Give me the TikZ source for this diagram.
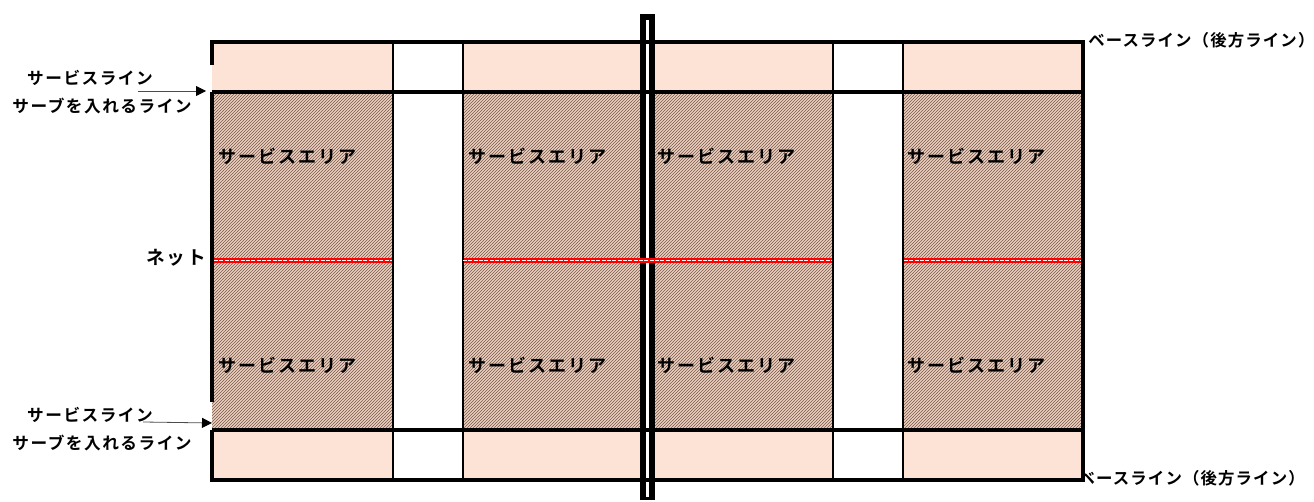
\documentclass[tikz,border=0pt]{standalone}
\usepackage{fontspec}
\setmainfont{Noto Sans CJK JP}[BoldFont={Noto Sans CJK JP Bold}]
\newfontfamily\lbfont{Noto Sans CJK JP Bold}[LetterSpace=9]
\newfontfamily\arfont{Noto Sans CJK JP Bold}[LetterSpace=11]
\newfontfamily\blfont{Noto Sans CJK JP Bold}[LetterSpace=7]
\usetikzlibrary{patterns.meta,arrows.meta}
\definecolor{peach}{HTML}{FDE3D6}
\definecolor{hatchdark}{HTML}{8A6A58}
\tikzset{
  lbl/.style={font=\lbfont\fontsize{12.5pt}{15pt}\selectfont,inner sep=0pt,text=black},
  netlbl/.style={font=\lbfont\fontsize{14pt}{16pt}\selectfont,inner sep=0pt,text=black},
  baselbl/.style={font=\blfont\fontsize{12.3pt}{15pt}\selectfont,inner sep=0pt,text=black},
  arealbl/.style={font=\arfont\fontsize{13.5pt}{16pt}\selectfont,inner sep=0pt,text=black},
  thick line/.style={line width=3pt,black},
  thin line/.style={line width=1.5pt,black},
  hatchfill/.style={fill=peach,postaction={pattern={Lines[angle=45,distance=1.591pt,line width=0.7pt]},pattern color=hatchdark}},
  peachfill/.style={fill=peach},
  pointer/.style={line width=0.6pt,black!70,-{Triangle[length=7.5pt,width=7.5pt,color=black]}},
  netband/.style={line width=3.6pt,red},
  netcore/.style={line width=0.7pt,white,dash pattern=on 3pt off 1pt},
}
\begin{document}
\begin{tikzpicture}[x=0.75pt,y=-0.75pt]
\useasboundingbox (0,0) rectangle (1314,502);
% base line labels sit under the court
\node[baselbl,anchor=west] (b1) at (1088,40) {ベースライン（後方ライン）};
\node[baselbl,anchor=east] (b2) at (1305,478) {ベースライン（後方ライン）};
% peach back courts
\foreach \a/\b in {212/392,463/641,654/833,903/1083}{
  \fill[peachfill] (\a,42) rectangle (\b,92);
  \fill[peachfill] (\a,430) rectangle (\b,480);
}
% service areas
\foreach \a/\b in {212/392,463/641,654/833,903/1083}{
  \path[hatchfill] (\a,92) rectangle (\b,430);
}
% net
\foreach \a/\b in {214/392,463/832,904/1081}{
  \draw[netband] (\a,260.5) -- (\b,260.5);
}
% thin verticals
\foreach \x in {392.5,463,833,903}{
  \draw[thin line] (\x,42) -- (\x,480);
}
% horizontals and outline
\draw[thick line] (212,92.5) -- (1083,92.5);
\draw[thick line] (212,430) -- (1083,430);
\draw[thick line] (212,65) -- (212,42) -- (1083,42) -- (1083,480) -- (212,480) -- (212,430);
\draw[thick line] (212,92.5) -- (212,402);
% centre post
\draw[line width=4.5pt,black] (643,14) -- (643,500);
\draw[line width=4.5pt,black] (652,14) -- (652,500);
\fill[black] (640,14) rectangle (655,20);
\fill[black] (640,497) rectangle (655,500);
\draw[thick line] (640,42) -- (655,42);
\draw[thick line] (640,92.5) -- (655,92.5);
\draw[thick line] (640,430) -- (655,430);
\draw[thick line] (640,480) -- (655,480);
\draw[netband] (640,260.5) -- (655,260.5);
\foreach \a/\b in {214/392,463/832,904/1081}{
  \draw[netcore] (\a,260.5) -- (\b,260.5);
}
% labels
\foreach \n/\x/\y in {a1/218/156,a2/468/156,a3/657/156,a4/907/156,a5/218/365,a6/468/365,a7/657/365,a8/907/365}{
  \node[arealbl,anchor=west] (\n) at (\x,\y) {サービスエリア};
}
\node[lbl,anchor=center] (s1) at (90,78) {サービスライン};
\node[lbl,anchor=center] (s2) at (102,106) {サーブを入れるライン};
\node[lbl,anchor=center] (s3) at (90,415) {サービスライン};
\node[lbl,anchor=center] (s4) at (102,443) {サーブを入れるライン};
\node[netlbl,anchor=east] (net) at (206,258) {ネット};
\coordinate (p1) at (138,91);
\coordinate (q1) at (206,91);
\coordinate (p2) at (143,422);
\coordinate (q2) at (212,423);
\draw[pointer] (p1) -- (q1);
\draw[pointer] (p2) -- (q2);
\end{tikzpicture}
\end{document}
